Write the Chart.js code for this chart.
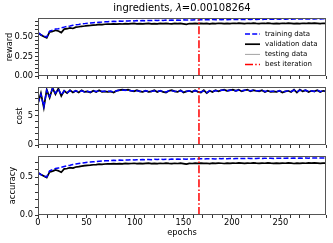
<!DOCTYPE html>
<html>
<head>
<meta charset="utf-8">
<script src="https://cdn.jsdelivr.net/npm/chart.js@4.4.1/dist/chart.umd.min.js"></script>
<style>
body { margin: 0; background: #fff; }
#wrap { position: relative; width: 333px; height: 243px; }
canvas { position: absolute; left: 0; top: 0; }
</style>
</head>
<body>
<div id="wrap">
<canvas id="rewardChart" width="333" height="243"></canvas>
<canvas id="costChart" width="333" height="243"></canvas>
<canvas id="accuracyChart" width="333" height="243"></canvas>
</div>
<script>
// one value every 3 epochs (0, 3, ..., 297)
const epochStep = 3;
const lastEpoch = 297;
const bestEpoch = 166;
const xMajorTicks = [0, 50, 100, 150, 200, 250];

const rewardTrain = [
  0.555, 0.53, 0.51, 0.50, 0.575, 0.585, 0.60, 0.605, 0.615, 0.625,
  0.635, 0.64, 0.648, 0.655, 0.66, 0.666, 0.67, 0.675, 0.678, 0.682,
  0.685, 0.688, 0.69, 0.693, 0.695, 0.697, 0.70, 0.698, 0.703, 0.701,
  0.705, 0.703, 0.707, 0.705, 0.709, 0.706, 0.71, 0.708, 0.711, 0.709,
  0.713, 0.71, 0.714, 0.711, 0.715, 0.712, 0.716, 0.713, 0.716, 0.714,
  0.718, 0.715, 0.718, 0.716, 0.72, 0.717, 0.72, 0.718, 0.721, 0.719,
  0.722, 0.719, 0.723, 0.72, 0.723, 0.721, 0.724, 0.721, 0.725, 0.722,
  0.725, 0.723, 0.726, 0.723, 0.726, 0.724, 0.727, 0.724, 0.727, 0.725,
  0.728, 0.725, 0.728, 0.726, 0.729, 0.726, 0.729, 0.727, 0.73, 0.727,
  0.73, 0.728, 0.731, 0.728, 0.731, 0.729, 0.732, 0.729, 0.732, 0.73
];
const rewardVal = [
  0.555, 0.525, 0.505, 0.488, 0.565, 0.57, 0.585, 0.575, 0.555, 0.60,
  0.605, 0.615, 0.608, 0.625, 0.63, 0.636, 0.64, 0.645, 0.648, 0.652,
  0.655, 0.66, 0.657, 0.662, 0.665, 0.663, 0.667, 0.664, 0.668, 0.665,
  0.67, 0.666, 0.669, 0.672, 0.668, 0.671, 0.666, 0.67, 0.673, 0.668,
  0.671, 0.667, 0.672, 0.669, 0.674, 0.67, 0.668, 0.672, 0.669, 0.673,
  0.667, 0.661, 0.671, 0.669, 0.673, 0.671, 0.674, 0.67, 0.672, 0.668,
  0.673, 0.671, 0.675, 0.672, 0.669, 0.674, 0.671, 0.675, 0.672, 0.676,
  0.673, 0.67, 0.675, 0.672, 0.676, 0.673, 0.671, 0.675, 0.672, 0.677,
  0.673, 0.67, 0.674, 0.671, 0.675, 0.672, 0.676, 0.673, 0.669, 0.674,
  0.671, 0.675, 0.672, 0.676, 0.673, 0.677, 0.674, 0.671, 0.675, 0.673
];
const rewardTest = [
  0.552, 0.528, 0.503, 0.49, 0.56, 0.568, 0.58, 0.572, 0.558, 0.595,
  0.602, 0.61, 0.606, 0.62, 0.626, 0.632, 0.637, 0.641, 0.645, 0.649,
  0.652, 0.656, 0.655, 0.659, 0.661, 0.66, 0.664, 0.662, 0.665, 0.663,
  0.667, 0.664, 0.667, 0.669, 0.666, 0.668, 0.664, 0.668, 0.67, 0.666,
  0.668, 0.665, 0.669, 0.667, 0.671, 0.668, 0.666, 0.67, 0.667, 0.67,
  0.665, 0.66, 0.668, 0.667, 0.67, 0.668, 0.671, 0.668, 0.67, 0.666,
  0.67, 0.668, 0.672, 0.67, 0.667, 0.671, 0.669, 0.672, 0.67, 0.673,
  0.67, 0.668, 0.672, 0.67, 0.673, 0.671, 0.669, 0.672, 0.67, 0.674,
  0.671, 0.668, 0.671, 0.669, 0.672, 0.67, 0.673, 0.671, 0.667, 0.671,
  0.669, 0.672, 0.67, 0.673, 0.671, 0.674, 0.672, 0.669, 0.672, 0.671
];

const costTrain = [
  7.2, 8.7, 6.6, 9.4, 8.3, 9.7, 8.9, 9.6, 8.6, 9.3,
  9.0, 9.3, 9.1, 9.3, 9.1, 9.3, 9.1, 9.2, 9.1, 9.3,
  9.2, 9.3, 9.2, 9.2, 9.2, 9.2, 9.1, 9.3, 9.4, 9.4,
  9.4, 9.4, 9.3, 9.3, 9.3, 9.2, 9.2, 9.3, 9.2, 9.2,
  9.3, 9.2, 9.3, 9.2, 9.1, 9.3, 9.3, 9.2, 9.2, 9.3,
  9.1, 9.2, 9.3, 9.2, 9.3, 9.2, 9.1, 9.3, 9.0, 9.3,
  9.2, 9.3, 9.3, 9.4, 9.4, 9.3, 9.4, 9.4, 9.3, 9.4,
  9.3, 9.4, 9.4, 9.3, 9.4, 9.3, 9.3, 9.4, 9.2, 9.3,
  9.2, 9.2, 9.2, 9.3, 9.1, 9.2, 9.3, 9.2, 9.4, 9.1,
  9.4, 9.3, 9.4, 9.2, 9.3, 9.2, 9.4, 9.2, 9.3, 9.2
];
const costVal = [
  7.1, 8.9, 6.4, 9.5, 8.1, 9.8, 8.7, 9.7, 8.4, 9.3,
  8.9, 9.4, 9.0, 9.3, 9.0, 9.4, 9.1, 9.2, 9.0, 9.3,
  9.1, 9.4, 9.1, 9.2, 9.1, 9.2, 9.0, 9.3, 9.4, 9.5,
  9.4, 9.5, 9.3, 9.2, 9.4, 9.2, 9.1, 9.3, 9.1, 9.2,
  9.4, 9.1, 9.3, 9.1, 9.0, 9.3, 9.4, 9.2, 9.1, 9.4,
  9.0, 9.2, 9.3, 9.1, 9.4, 9.1, 9.0, 9.4, 8.9, 9.3,
  9.1, 9.4, 9.2, 9.4, 9.5, 9.3, 9.4, 9.5, 9.3, 9.5,
  9.2, 9.4, 9.5, 9.2, 9.4, 9.3, 9.2, 9.4, 9.1, 9.3,
  9.1, 9.2, 9.1, 9.3, 9.0, 9.2, 9.3, 9.1, 9.5, 9.0,
  9.5, 9.2, 9.4, 9.1, 9.3, 9.2, 9.4, 9.1, 9.3, 9.2
];
const costTest = [
  7.0, 8.8, 6.5, 9.4, 8.2, 9.6, 8.8, 9.5, 8.5, 9.2,
  8.9, 9.3, 9.0, 9.2, 9.0, 9.3, 9.1, 9.1, 9.0, 9.2,
  9.1, 9.3, 9.1, 9.1, 9.1, 9.1, 9.0, 9.2, 9.3, 9.4,
  9.3, 9.4, 9.2, 9.2, 9.3, 9.1, 9.1, 9.2, 9.1, 9.1,
  9.3, 9.1, 9.2, 9.1, 9.0, 9.2, 9.3, 9.1, 9.1, 9.3,
  9.0, 9.1, 9.2, 9.1, 9.3, 9.1, 9.0, 9.3, 8.9, 9.2,
  9.1, 9.3, 9.2, 9.3, 9.4, 9.2, 9.3, 9.4, 9.2, 9.4,
  9.2, 9.3, 9.4, 9.2, 9.3, 9.2, 9.2, 9.3, 9.1, 9.2,
  9.1, 9.1, 9.1, 9.2, 9.0, 9.1, 9.2, 9.1, 9.4, 9.0,
  9.4, 9.1, 9.3, 9.1, 9.2, 9.1, 9.3, 9.1, 9.2, 9.1
];

const accuracyTrain = [
  0.56, 0.535, 0.515, 0.505, 0.585, 0.6, 0.615, 0.62, 0.632, 0.642,
  0.652, 0.658, 0.667, 0.674, 0.68, 0.686, 0.691, 0.696, 0.7, 0.704,
  0.707, 0.71, 0.713, 0.716, 0.718, 0.72, 0.723, 0.721, 0.726, 0.724,
  0.728, 0.726, 0.73, 0.728, 0.732, 0.729, 0.733, 0.731, 0.734, 0.732,
  0.736, 0.733, 0.737, 0.734, 0.738, 0.735, 0.739, 0.736, 0.739, 0.737,
  0.741, 0.738, 0.741, 0.739, 0.743, 0.74, 0.743, 0.741, 0.744, 0.742,
  0.745, 0.742, 0.746, 0.743, 0.746, 0.744, 0.747, 0.744, 0.748, 0.745,
  0.748, 0.746, 0.749, 0.746, 0.749, 0.747, 0.75, 0.747, 0.75, 0.748,
  0.751, 0.748, 0.751, 0.749, 0.752, 0.749, 0.752, 0.75, 0.753, 0.75,
  0.753, 0.751, 0.754, 0.751, 0.754, 0.752, 0.755, 0.752, 0.755, 0.753
];
const accuracyVal = [
  0.56, 0.535, 0.515, 0.495, 0.57, 0.58, 0.595, 0.585, 0.565, 0.61,
  0.615, 0.625, 0.62, 0.635, 0.64, 0.647, 0.652, 0.657, 0.66, 0.664,
  0.667, 0.672, 0.669, 0.674, 0.677, 0.675, 0.679, 0.676, 0.68, 0.677,
  0.682, 0.678, 0.681, 0.684, 0.68, 0.683, 0.678, 0.682, 0.685, 0.68,
  0.683, 0.679, 0.684, 0.681, 0.686, 0.682, 0.68, 0.684, 0.681, 0.685,
  0.679, 0.672, 0.683, 0.681, 0.685, 0.683, 0.686, 0.682, 0.684, 0.68,
  0.685, 0.683, 0.687, 0.684, 0.681, 0.686, 0.683, 0.687, 0.684, 0.688,
  0.685, 0.682, 0.687, 0.684, 0.688, 0.685, 0.683, 0.687, 0.684, 0.689,
  0.685, 0.682, 0.686, 0.683, 0.687, 0.684, 0.688, 0.685, 0.681, 0.686,
  0.683, 0.687, 0.684, 0.688, 0.685, 0.689, 0.686, 0.683, 0.687, 0.685
];
const accuracyTest = [
  0.557, 0.532, 0.51, 0.497, 0.565, 0.574, 0.59, 0.58, 0.566, 0.605,
  0.611, 0.62, 0.617, 0.63, 0.636, 0.643, 0.648, 0.653, 0.657, 0.661,
  0.664, 0.668, 0.667, 0.671, 0.673, 0.672, 0.676, 0.674, 0.677, 0.675,
  0.679, 0.676, 0.678, 0.681, 0.678, 0.68, 0.676, 0.679, 0.682, 0.678,
  0.68, 0.677, 0.681, 0.679, 0.683, 0.68, 0.678, 0.681, 0.679, 0.682,
  0.677, 0.671, 0.68, 0.679, 0.682, 0.68, 0.683, 0.68, 0.681, 0.678,
  0.682, 0.68, 0.684, 0.682, 0.679, 0.683, 0.681, 0.684, 0.682, 0.685,
  0.682, 0.68, 0.684, 0.682, 0.685, 0.683, 0.681, 0.684, 0.682, 0.686,
  0.683, 0.68, 0.683, 0.681, 0.684, 0.682, 0.685, 0.683, 0.679, 0.683,
  0.681, 0.684, 0.682, 0.685, 0.683, 0.686, 0.684, 0.681, 0.684, 0.683
];

const rewardTicks = [0, 0.25, 0.5];
const costTicks = [0, 5];
const accuracyTicks = [0, 0.5];

const FONT = 'DejaVu Sans';
const TICK_SIZE = 8.3;

function toPoints(values) {
  return values.map((v, i) => ({ x: i * epochStep, y: v }));
}

// matplotlib style frame round the axes
const framePlugin = {
  id: 'frame',
  afterDatasetsDraw(chart) {
    const a = chart.chartArea;
    const ctx = chart.ctx;
    ctx.save();
    ctx.strokeStyle = '#555';
    ctx.lineWidth = 1;
    ctx.strokeRect(a.left + 0.5, a.top + 0.5, a.right - a.left - 1, a.bottom - a.top - 1);
    ctx.restore();
  }
};

const titlePlugin = {
  id: 'mplTitle',
  afterDraw(chart) {
    const ctx = chart.ctx;
    const a = chart.chartArea;
    const parts = [
      { text: 'ingredients, ', font: '10px "' + FONT + '"' },
      { text: 'λ', font: 'oblique 10px "' + FONT + '"' },
      { text: '=0.00108264', font: '10px "' + FONT + '"' }
    ];
    ctx.save();
    let total = 0;
    parts.forEach(p => { ctx.font = p.font; p.w = ctx.measureText(p.text).width; total += p.w; });
    let x = (a.left + a.right) / 2 - total / 2;
    ctx.fillStyle = '#000';
    ctx.textBaseline = 'alphabetic';
    parts.forEach(p => { ctx.font = p.font; ctx.fillText(p.text, x, 11); x += p.w; });
    ctx.restore();
  }
};

const legendPlugin = {
  id: 'mplLegend',
  afterDraw(chart) {
    const ctx = chart.ctx;
    const a = chart.chartArea;
    const left = a.right - 86, top = a.top + 9;
    ctx.save();
    ctx.font = '7px "' + FONT + '"';
    ctx.textBaseline = 'middle';
    chart.data.datasets.forEach((ds, i) => {
      const y = top + 7 + i * 10.2;
      ctx.strokeStyle = ds.borderColor;
      ctx.lineWidth = ds.borderWidth;
      ctx.setLineDash(ds.borderDash || []);
      ctx.beginPath();
      ctx.moveTo(left + 5, y);
      ctx.lineTo(left + 20, y);
      ctx.stroke();
      ctx.setLineDash([]);
      ctx.fillStyle = '#000';
      ctx.fillText(ds.label, left + 25, y);
    });
    ctx.restore();
  }
};

function makePanel(id, opts) {
  const plugins = [framePlugin];
  if (opts.title) plugins.push(titlePlugin);
  if (opts.legend) plugins.push(legendPlugin);
  const isMajor = v => opts.majorTicks.some(t => Math.abs(t - v) < 1e-6);
  new Chart(document.getElementById(id), {
    type: 'line',
    data: {
      datasets: [
        { label: 'training data', data: toPoints(opts.train), borderColor: '#0000ff', borderWidth: 1.5, borderDash: [5, 2.2], order: 1 },
        { label: 'validation data', data: toPoints(opts.val), borderColor: '#000', borderWidth: 1.7, order: 2 },
        { label: 'testing data', data: toPoints(opts.test), borderColor: '#8a8a8a', borderWidth: 0.8, order: 3 },
        { label: 'best iteration', data: [{ x: bestEpoch, y: 0 }, { x: bestEpoch, y: opts.yMax }], borderColor: '#ff0000', borderWidth: 1.5, borderDash: [8, 2.2, 1.5, 2.2], order: 0 }
      ]
    },
    options: {
      responsive: false,
      animation: false,
      devicePixelRatio: 1,
      layout: { padding: { top: opts.top, bottom: opts.bottomPad, left: 0, right: 7 } },
      elements: { point: { radius: 0 }, line: { tension: 0, fill: false } },
      plugins: { legend: { display: false }, tooltip: { enabled: false } },
      scales: {
        x: {
          type: 'linear',
          min: 0,
          max: lastEpoch,
          afterFit(scale) { scale.height = opts.showX ? 28 : 4; },
          border: { display: false },
          grid: { drawOnChartArea: false, drawTicks: true, tickLength: 3, tickColor: '#333' },
          ticks: {
            stepSize: 10,
            autoSkip: false,
            maxRotation: 0,
            padding: 0,
            color: '#000',
            font: { family: FONT, size: TICK_SIZE },
            callback: v => (opts.showX && xMajorTicks.includes(v)) ? String(v) : ''
          },
          title: opts.showX ? { display: true, text: 'epochs', color: '#000', font: { family: FONT, size: TICK_SIZE }, padding: { top: 0, bottom: 5 } } : { display: false }
        },
        y: {
          min: 0,
          max: opts.yMax,
          afterFit(scale) { scale.width = 38; },
          border: { display: false },
          grid: { drawOnChartArea: false, drawTicks: true, tickLength: 3, tickColor: '#333' },
          ticks: {
            stepSize: opts.minorStep,
            includeBounds: false,
            autoSkip: false,
            padding: 2,
            color: '#000',
            font: { family: FONT, size: TICK_SIZE },
            callback: v => isMajor(v) ? v.toFixed(opts.digits) : ''
          },
          title: { display: true, text: opts.yLabel, color: '#000', font: { family: FONT, size: TICK_SIZE }, padding: { top: opts.labelPad, bottom: 0 } }
        }
      }
    },
    plugins: plugins
  });
}

makePanel('rewardChart', {
  train: rewardTrain, val: rewardVal, test: rewardTest,
  yMax: 0.742, minorStep: 0.05, majorTicks: rewardTicks, digits: 2,
  yLabel: 'reward', labelPad: 5, top: 18, bottomPad: 243 - 76 - 4,
  showX: false, title: true, legend: true
});
makePanel('costChart', {
  train: costTrain, val: costVal, test: costTest,
  yMax: 9.95, minorStep: 1, majorTicks: costTicks, digits: 0,
  yLabel: 'cost', labelPad: 15, top: 87, bottomPad: 243 - 145 - 4,
  showX: false, title: false, legend: false
});
makePanel('accuracyChart', {
  train: accuracyTrain, val: accuracyVal, test: accuracyTest,
  yMax: 0.78, minorStep: 0.1, majorTicks: accuracyTicks, digits: 1,
  yLabel: 'accuracy', labelPad: 8, top: 156, bottomPad: 0,
  showX: true, title: false, legend: false
});
</script>
</body>
</html>
